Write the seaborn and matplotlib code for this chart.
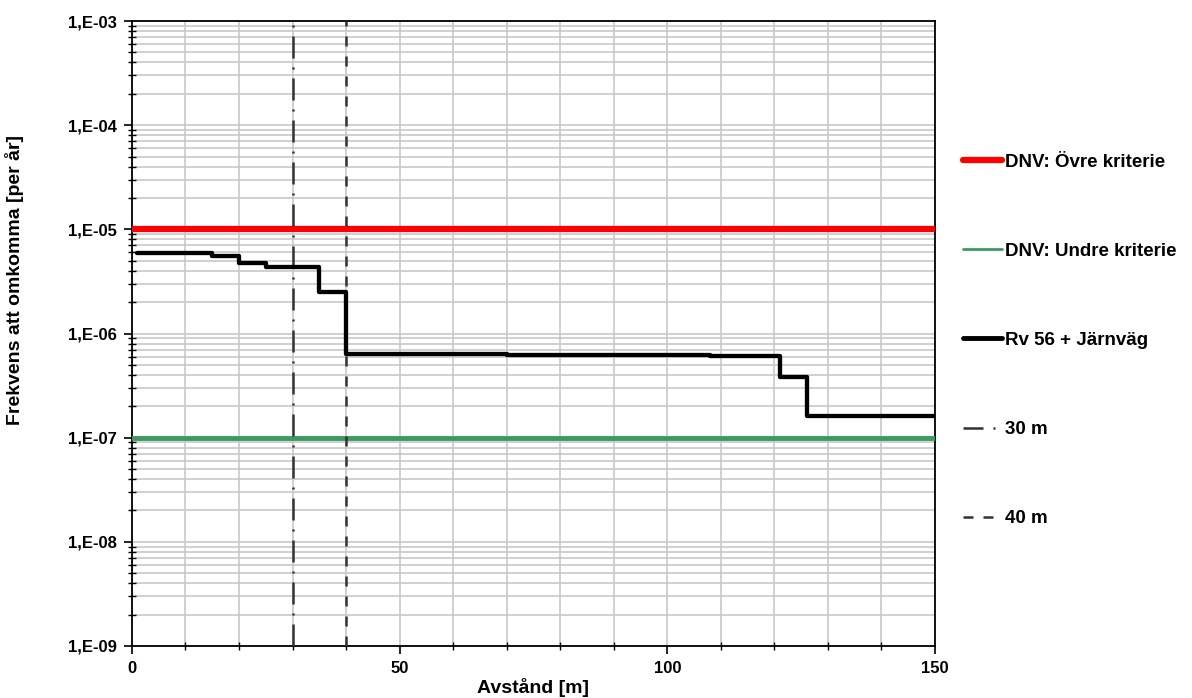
import math
import matplotlib
matplotlib.use("Agg")
import matplotlib.pyplot as plt
import seaborn as sns
import pandas as pd
from matplotlib.ticker import FixedLocator, LogLocator, FuncFormatter, NullFormatter

# Step curve: distance [m] and frequency [per year]
distance = [1, 15, 20, 25, 35, 40, 70, 108, 121, 126, 150]
frequency = [5.9e-6, 5.6e-6, 4.7e-6, 4.35e-6, 2.5e-6, 6.35e-7, 6.25e-7, 6.1e-7, 3.8e-7, 1.6e-7, 1.6e-7]

upper_criterion = 1e-5
lower_criterion = 1e-7
marker_30 = 30
marker_40 = 40

labels = ["DNV: Övre kriterie", "DNV: Undre kriterie", "Rv 56 + Järnväg", "30 m", "40 m"]

sns.set_style("white")
plt.rcParams['font.family'] = ['Liberation Sans', 'DejaVu Sans']
plt.rcParams['font.weight'] = 'bold'
plt.rcParams['text.color'] = 'black'
plt.rcParams['axes.labelcolor'] = 'black'
plt.rcParams['xtick.color'] = 'black'
plt.rcParams['ytick.color'] = 'black'

fig = plt.figure(figsize=(11.92, 6.98), dpi=100)
ax = fig.add_axes([0.1107, 0.0745, 0.6737, 0.8954])

df = pd.DataFrame({'Avstånd': distance, 'Frekvens': frequency})

ax.set_yscale('log')
ax.set_xlim(0, 150)
ax.set_ylim(1e-9, 1e-3)

# Grid
ax.xaxis.set_minor_locator(FixedLocator(range(0, 151, 10)))
ax.yaxis.set_minor_locator(LogLocator(base=10, subs=range(2, 10), numticks=20))
ax.yaxis.set_minor_formatter(NullFormatter())
ax.grid(True, which='both', axis='both', color='#c8c8c8', linewidth=1.2, zorder=0)

dashdot = (0, (8.8, 3.6, 0.8, 3.6))
dashed = (0, (4, 4))

ax.axhline(upper_criterion, color='#ff0000', linewidth=4.5, zorder=3)
ax.axhline(lower_criterion, color='#3a9a62', linewidth=3.5, zorder=3)
sns.lineplot(data=df, x='Avstånd', y='Frekvens', drawstyle='steps-post',
             color='black', linewidth=3.1, ax=ax, zorder=4)
ax.axvline(marker_30, color='#333333', linewidth=1.8, linestyle=dashdot, zorder=3)
ax.axvline(marker_40, color='#333333', linewidth=1.8, linestyle=dashed, zorder=3)

ax.set_xticks([0, 50, 100, 150])
ax.set_yticks([1e-9, 1e-8, 1e-7, 1e-6, 1e-5, 1e-4, 1e-3])
ax.yaxis.set_major_formatter(FuncFormatter(lambda v, p: "1,E-%02d" % round(-math.log10(v))))
ax.tick_params(axis='both', which='major', labelsize=12, direction='out', length=6, width=1.2,
               color='black', labelcolor='black', left=True, bottom=True, pad=5)
ax.tick_params(axis='both', which='minor', direction='inout', length=6, width=1,
               color='black', left=True, bottom=True)
for lab in ax.get_xticklabels() + ax.get_yticklabels():
    lab.set_fontweight('bold')

for side in ['left', 'bottom', 'right', 'top']:
    ax.spines[side].set_color('black')
    ax.spines[side].set_linewidth(1.3)

ax.set_xlabel('Avstånd [m]', fontsize=14, fontweight='bold', color='black')
ax.set_ylabel('Frekvens att omkomma [per år]', fontsize=14, fontweight='bold', color='black')
ax.xaxis.set_label_coords(0.5, -0.052)
ax.yaxis.set_label_coords(-0.134, 0.586)

leg_upper = plt.Line2D([], [], color='#ff0000', linewidth=4.5, solid_capstyle='round')
leg_lower = plt.Line2D([], [], color='#3a9a62', linewidth=2)
leg_curve = plt.Line2D([], [], color='black', linewidth=3.5)
leg_30 = plt.Line2D([], [], color='#333333', linewidth=1.8, linestyle=(0, (8, 4, 0.8, 4)))
leg_40 = plt.Line2D([], [], color='#333333', linewidth=1.8, linestyle=(0, (4, 4)))
fig.legend([leg_upper, leg_lower, leg_curve, leg_30, leg_40], labels,
           loc='upper left', bbox_to_anchor=(0.7936, 0.804), frameon=False,
           prop={'weight': 'bold', 'size': 13.5}, labelspacing=3.84,
           handlelength=2.1, handletextpad=0.15, labelcolor='black')

fig.savefig('out.png', dpi=100)
